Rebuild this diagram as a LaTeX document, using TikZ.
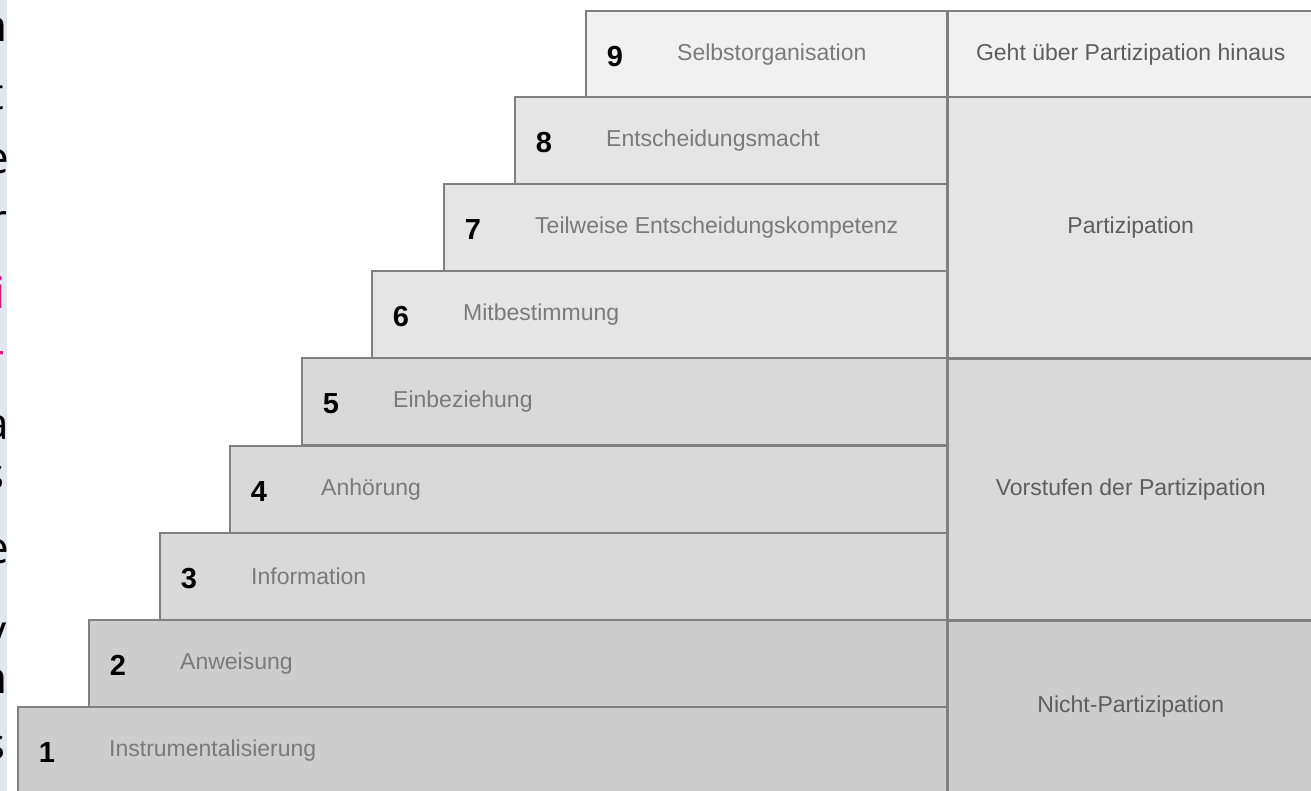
\documentclass[tikz,border=0pt]{standalone}
\usepackage{fontspec}
\setmainfont{Liberation Sans}
\newfontfamily\randfont{Open Sans}
\definecolor{stufeA}{HTML}{F1F1F1}
\definecolor{stufeB}{HTML}{E5E5E5}
\definecolor{stufeC}{HTML}{D9D9D9}
\definecolor{stufeD}{HTML}{CDCDCD}
\definecolor{kante}{HTML}{808080}
\definecolor{schrift}{HTML}{7A7A7A}
\definecolor{ebenenschrift}{HTML}{5E5E5E}
\definecolor{rand}{HTML}{E2E7EF}
\definecolor{pinkrot}{HTML}{E0157F}

\begin{document}
\begin{tikzpicture}[
    x=1pt, y=-1pt,
    stufe/.style={draw=kante, line width=2pt, anchor=north west, minimum height=87pt, inner sep=0pt},
    nummer/.style={inner sep=0pt, font=\fontsize{29}{29}\selectfont\bfseries},
    stufentext/.style={anchor=west, inner sep=0pt, text=schrift, font=\fontsize{23}{23}\selectfont},
    ebene/.style={draw=kante, line width=2.5pt, anchor=north west, minimum width=367pt, inner sep=0pt, align=center, text=ebenenschrift, font=\fontsize{23}{23}\selectfont},
    randzeichen/.style={anchor=east, inner sep=0pt, font=\randfont\fontsize{44}{44}\selectfont}
  ]
    \useasboundingbox (0,0) rectangle (1311,791);

    % cut-off page text on the left
    \fill[rand] (0,0) rectangle (7,791);
    \begin{scope}
      \clip (0,0) rectangle (15,791);
      \node[randzeichen] (r1) at (8,30) {n};
      \node[randzeichen] (r2) at (4,95) {t};
      \node[randzeichen] (r3) at (9,162) {e};
      \node[randzeichen] (r4) at (8,224) {r};
      \node[randzeichen, text=pinkrot] (r5) at (6,292) {i};
      \node[randzeichen, text=pinkrot] (r6) at (5,364) {r};
      \node[randzeichen] (r7) at (9,428) {a};
      \node[randzeichen] (r8) at (5,478) {s};
      \node[randzeichen] (r9) at (9,552) {e};
      \node[randzeichen] (r10) at (7,640) {y};
      \node[randzeichen] (r11) at (8,682) {n};
      \node[randzeichen] (r12) at (6,748) {s};
    \end{scope}

    % steps
    \node[stufe, fill=stufeA, minimum width=361pt] (s9) at (585,10) {};
    \node[stufe, fill=stufeB, minimum width=432pt] (s8) at (514,96) {};
    \node[stufe, fill=stufeB, minimum width=503pt] (s7) at (443,183) {};
    \node[stufe, fill=stufeB, minimum width=575pt] (s6) at (371,270) {};
    \node[stufe, fill=stufeC, minimum width=645pt] (s5) at (301,357) {};
    \node[stufe, fill=stufeC, minimum width=717pt] (s4) at (229,445) {};
    \node[stufe, fill=stufeC, minimum width=787pt] (s3) at (159,532) {};
    \node[stufe, fill=stufeD, minimum width=858pt] (s2) at (88,619) {};
    \node[stufe, fill=stufeD, minimum width=929pt] (s1) at (17,706) {};

    \node[nummer] (n9) at ([xshift=30pt, yshift=-2pt]s9.west) {9};
    \node[nummer] (n8) at ([xshift=30pt, yshift=-2pt]s8.west) {8};
    \node[nummer] (n7) at ([xshift=30pt, yshift=-2pt]s7.west) {7};
    \node[nummer] (n6) at ([xshift=30pt, yshift=-2pt]s6.west) {6};
    \node[nummer] (n5) at ([xshift=30pt, yshift=-2pt]s5.west) {5};
    \node[nummer] (n4) at ([xshift=30pt, yshift=-2pt]s4.west) {4};
    \node[nummer] (n3) at ([xshift=30pt, yshift=-2pt]s3.west) {3};
    \node[nummer] (n2) at ([xshift=30pt, yshift=-2pt]s2.west) {2};
    \node[nummer] (n1) at ([xshift=30pt, yshift=-2pt]s1.west) {1};

    \node[stufentext] (t9) at ([xshift=92pt]s9.west) {Selbstorganisation};
    \node[stufentext] (t8) at ([xshift=92pt]s8.west) {Entscheidungsmacht};
    \node[stufentext] (t7) at ([xshift=92pt]s7.west) {Teilweise Entscheidungskompetenz};
    \node[stufentext] (t6) at ([xshift=92pt]s6.west) {Mitbestimmung};
    \node[stufentext] (t5) at ([xshift=92pt]s5.west) {Einbeziehung};
    \node[stufentext] (t4) at ([xshift=92pt]s4.west) {Anhörung};
    \node[stufentext] (t3) at ([xshift=92pt]s3.west) {Information};
    \node[stufentext] (t2) at ([xshift=92pt]s2.west) {Anweisung};
    \node[stufentext] (t1) at ([xshift=92pt]s1.west) {Instrumentalisierung};

    % levels on the right
    \node[ebene, fill=stufeA, minimum height=86pt] (e4) at (946,10) {Geht über Partizipation hinaus};
    \node[ebene, fill=stufeB, minimum height=261pt] (e3) at (946,96) {Partizipation};
    \node[ebene, fill=stufeC, minimum height=262pt] (e2) at (946,357) {Vorstufen der Partizipation};
    \node[ebene, fill=stufeD, minimum height=172pt] (e1) at (946,619) {Nicht-Partizipation};
  \end{tikzpicture}
\end{document}
